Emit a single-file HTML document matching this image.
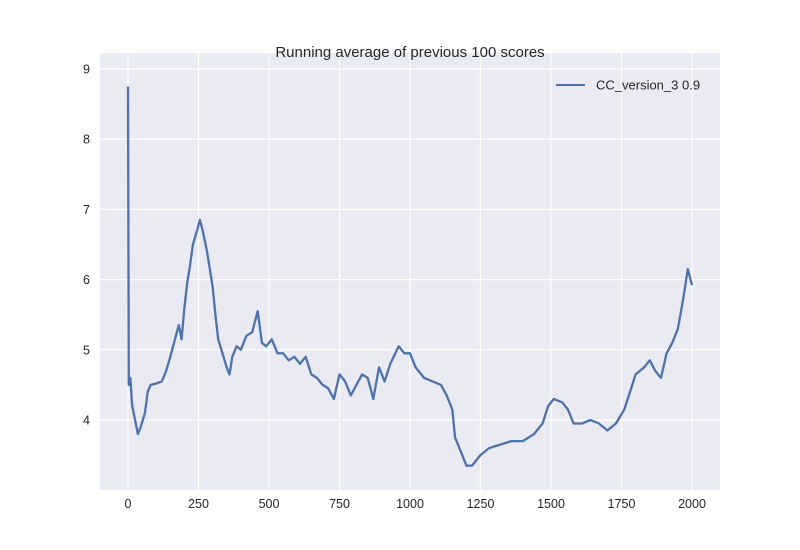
<!DOCTYPE html>
<html><head><meta charset="utf-8"><style>
body{margin:0;background:#fff;}
svg{display:block;font-family:"Liberation Sans",Arial,sans-serif;}
</style></head><body>
<svg id="chart" width="800" height="550">
<rect x="100" y="53" width="620" height="437" fill="#eaeaf2"/>
<g id="grid"></g>
<g id="ticks"></g>
<text x="410" y="57" text-anchor="middle" font-size="15" fill="#262626">Running average of previous 100 scores</text>
<path id="line" fill="none" stroke="#4c72b0" stroke-width="2.3" stroke-linejoin="round"/>
<g>
<line x1="556" y1="85" x2="585" y2="85" stroke="#4c72b0" stroke-width="2"/>
<text x="596" y="89.5" font-size="13" fill="#262626">CC_version_3 0.9</text>
</g>
</svg>
<script>
const xs = [0,3,8,15,25,35,45,60,70,80,100,120,135,150,170,180,190,200,210,220,230,245,255,265,280,300,310,320,335,350,360,370,385,400,420,440,460,475,490,510,530,550,570,590,610,630,650,670,690,710,730,750,770,790,810,830,850,870,890,910,930,960,980,1000,1020,1050,1080,1110,1130,1150,1160,1180,1200,1220,1250,1280,1320,1360,1400,1440,1470,1490,1510,1540,1560,1580,1610,1640,1670,1700,1730,1760,1780,1800,1830,1850,1870,1890,1910,1930,1950,1970,1985,2000];
const ys = [8.75,4.5,4.6,4.2,4.0,3.8,3.9,4.1,4.4,4.5,4.52,4.55,4.7,4.9,5.2,5.35,5.15,5.6,5.95,6.2,6.5,6.7,6.85,6.7,6.4,5.9,5.5,5.15,4.95,4.75,4.65,4.9,5.05,5.0,5.2,5.25,5.55,5.1,5.05,5.15,4.95,4.95,4.85,4.9,4.8,4.9,4.65,4.6,4.5,4.45,4.3,4.65,4.55,4.35,4.5,4.65,4.6,4.3,4.75,4.55,4.8,5.05,4.95,4.95,4.75,4.6,4.55,4.5,4.35,4.15,3.75,3.55,3.35,3.35,3.5,3.6,3.65,3.7,3.7,3.8,3.95,4.2,4.3,4.25,4.15,3.95,3.95,4.0,3.95,3.85,3.95,4.15,4.4,4.65,4.75,4.85,4.7,4.6,4.95,5.1,5.3,5.75,6.15,5.92];
const xTicks = [0,250,500,750,1000,1250,1500,1750,2000];
const yTicks = [4,5,6,7,8,9];
const X = v => 128 + v*0.282;
const Y = v => 420 - (v-4)*70.2;
const NS = "http://www.w3.org/2000/svg";
const grid = document.getElementById('grid'), ticks = document.getElementById('ticks');
xTicks.forEach(t=>{
  const l=document.createElementNS(NS,'line');
  l.setAttribute('x1',X(t));l.setAttribute('x2',X(t));l.setAttribute('y1',53);l.setAttribute('y2',490);
  l.setAttribute('stroke','#fff');l.setAttribute('stroke-width','1.2');
  
  
  grid.appendChild(l);
  const tx=document.createElementNS(NS,'text');
  tx.setAttribute('x',X(t));tx.setAttribute('y',508);tx.setAttribute('text-anchor','middle');
  tx.setAttribute('font-size','12.5');tx.setAttribute('fill','#262626');tx.textContent=t;
  
  
  ticks.appendChild(tx);
});
yTicks.forEach(t=>{
  const l=document.createElementNS(NS,'line');
  l.setAttribute('x1',100);l.setAttribute('x2',720);l.setAttribute('y1',Y(t));l.setAttribute('y2',Y(t));
  l.setAttribute('stroke','#fff');l.setAttribute('stroke-width','1.2');
  
  
  grid.appendChild(l);
  const tx=document.createElementNS(NS,'text');
  tx.setAttribute('x',90);tx.setAttribute('y',Y(t)+4.5);tx.setAttribute('text-anchor','end');
  tx.setAttribute('font-size','12.5');tx.setAttribute('fill','#262626');tx.textContent=t;
  
  
  ticks.appendChild(tx);
});
document.getElementById('line').setAttribute('d', xs.map((x,i)=>(i?'L':'M')+X(x).toFixed(1)+' '+Y(ys[i]).toFixed(1)).join(' '));
</script>
</body></html>
